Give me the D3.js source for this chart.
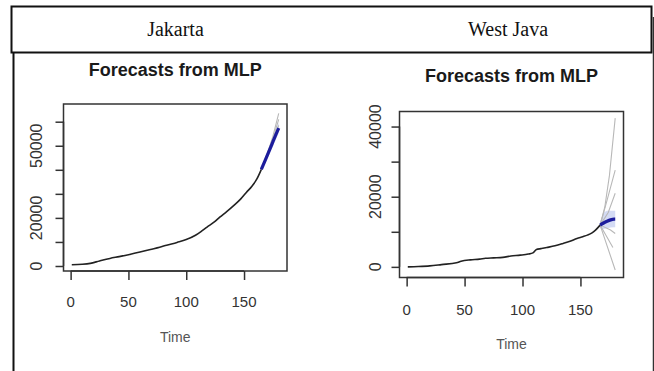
<!DOCTYPE html>
<html>
<head>
<meta charset="utf-8">
<script src="https://cdn.jsdelivr.net/npm/d3@7"></script>
<style>
	body { margin: 0; background: #fff; }
	svg text { font-family: "Liberation Sans", Arial, sans-serif; }
</style>
</head>
<body>
<script>
// ---- data ----
var regions = ['Jakarta', 'West Java'];
var xTicks = [0, 50, 100, 150];

// Jakarta observed
var jkTime  = [1, 10, 17, 25, 34, 42, 51, 60, 69, 77, 83, 92, 100, 108, 113, 118, 124, 129, 135, 141, 147, 152, 157, 161, 165];
var jkCases = [500, 700, 1100, 2100, 3150, 3900, 4800, 5800, 6870, 7800, 8640, 9800, 10970, 12760, 14400, 16200, 18200, 20300, 22600, 25100, 27800, 30600, 33300, 36100, 40200];
// Jakarta forecast
var jkFcTime  = [165, 168, 171, 174, 177, 180];
var jkFcMean  = [40200, 43600, 47000, 50500, 54000, 57300];
var jkFcUpper = [40200, 45000, 48800, 52500, 56200, 59500];
var jkFcLower = [40200, 42400, 45400, 48700, 52000, 55300];
var jkFanTime = [165, 170, 175, 180];
var jkFan = [
	[40200, 46500, 54000, 63500],
	[40200, 46000, 53000, 61000],
	[40200, 45500, 51500, 58500]
];
var jkYTicks = [0, 10000, 20000, 30000, 40000, 50000, 60000];
var jkYLabels = [0, 20000, 50000];

// West Java observed
var jbTime  = [1, 10, 20, 30, 43, 47, 55, 63, 68, 75, 83, 90, 98, 105, 109, 112, 116, 121, 128, 135, 141, 147, 152, 156, 160, 163, 167];
var jbCases = [0, 100, 290, 650, 1150, 1600, 2000, 2200, 2450, 2570, 2700, 3100, 3340, 3650, 4000, 4950, 5200, 5520, 6000, 6670, 7300, 8100, 8600, 9050, 9700, 10480, 11900];
// West Java forecast
var jbFcTime  = [167, 170, 173, 176, 179, 180];
var jbFcMean  = [11900, 12500, 13000, 13400, 13600, 13600];
var jbFcUpper = [13000, 15500, 16000, 16000, 16000, 16000];
var jbFcLower = [11000, 10800, 11000, 11200, 11300, 11300];
var jbFan = [
	{t: [167, 171, 175, 180], v: [11900, 17000, 26000, 42400]},
	{t: [167, 173, 180], v: [11900, 19000, 27600]},
	{t: [167, 174, 180], v: [11900, 15500, 21000]},
	{t: [167, 173, 180], v: [11900, 6000, -900]},
	{t: [167, 172, 178], v: [11900, 9000, 5500]},
	{t: [167, 176, 180], v: [11900, 10500, 9500]}
];
var jbYTicks = [0, 10000, 20000, 30000, 40000];
var jbYLabels = [0, 20000, 40000];

var W = 654, H = 371;
var svg = d3.select('body').append('svg')
	.attr('width', W)
	.attr('height', H);

// table frame
svg.append('rect')
	.attr('x', 11.5).attr('y', 6.5)
	.attr('width', 640).attr('height', 46)
	.attr('fill', 'none')
	.attr('stroke', '#111')
	.attr('stroke-width', 2);
svg.append('line')
	.attr('x1', 13.5).attr('x2', 13.5)
	.attr('y1', 52).attr('y2', H)
	.attr('stroke', '#111').attr('stroke-width', 2);
svg.append('line')
	.attr('x1', 653.5).attr('x2', 653.5)
	.attr('y1', 17).attr('y2', H)
	.attr('stroke', '#333').attr('stroke-width', 1.5);

var headerX = [175.5, 508];
svg.selectAll('text.hdr')
	.data(regions)
	.enter()
	.append('text')
	.attr('class', 'hdr')
	.attr('x', function(d, i){ return headerX[i]; })
	.attr('y', 36)
	.attr('text-anchor', 'middle')
	.style('font-family', '"Liberation Serif", "Times New Roman", serif')
	.style('font-size', '20px')
	.attr('fill', '#111')
	.text(function(d){ return d; });

function drawPanel(cfg){
	var g = svg.append('g');
	var x = d3.scaleLinear().domain([-6.16, 187.16]).range([cfg.left, cfg.right]);
	var y = d3.scaleLinear().domain(cfg.yDomain).range([cfg.bottom, cfg.top]);

	var clipId = 'clip' + cfg.id;
	svg.append('clipPath').attr('id', clipId)
		.append('rect')
		.attr('x', cfg.left).attr('y', cfg.top)
		.attr('width', cfg.right - cfg.left)
		.attr('height', cfg.bottom - cfg.top);

	var plot = g.append('g').attr('clip-path', 'url(#' + clipId + ')');

	// forecast band
	var area = d3.area()
		.x(function(d){ return x(d.t); })
		.y0(function(d){ return y(d.lo); })
		.y1(function(d){ return y(d.hi); });
	var bandData = cfg.fcTime.map(function(t, i){
		return {t: t, lo: cfg.fcLower[i], hi: cfg.fcUpper[i]};
	});
	plot.append('path')
		.datum(bandData)
		.attr('d', area)
		.attr('fill', '#cdd5f2')
		.attr('opacity', 0.85);

	// individual network forecasts
	var line = d3.line()
		.x(function(d){ return x(d[0]); })
		.y(function(d){ return y(d[1]); });
	for(let f of cfg.fan){
		plot.append('path')
			.datum(f.t.map(function(t, i){ return [t, f.v[i]]; }))
			.attr('d', line)
			.attr('fill', 'none')
			.attr('stroke', '#b8b8b8')
			.attr('stroke-width', 1.1);
	}

	// observed
	var smooth = d3.line()
		.x(function(d){ return x(d[0]); })
		.y(function(d){ return y(d[1]); })
		.curve(d3.curveMonotoneX);
	plot.append('path')
		.datum(cfg.time.map(function(t, i){ return [t, cfg.cases[i]]; }))
		.attr('d', smooth)
		.attr('fill', 'none')
		.attr('stroke', '#222')
		.attr('stroke-width', 1.6);

	// forecast mean
	plot.append('path')
		.datum(cfg.fcTime.map(function(t, i){ return [t, cfg.fcMean[i]]; }))
		.attr('d', smooth)
		.attr('fill', 'none')
		.attr('stroke', '#1c1c9c')
		.attr('stroke-width', 3.2);

	// box
	g.append('rect')
		.attr('x', cfg.left).attr('y', cfg.top)
		.attr('width', cfg.right - cfg.left)
		.attr('height', cfg.bottom - cfg.top)
		.attr('fill', 'none')
		.attr('stroke', '#333')
		.attr('stroke-width', 1.5);

	// x axis
	var xAxis = g.append('g')
		.attr('transform', 'translate(0,' + cfg.bottom + ')')
		.call(d3.axisBottom(x).tickValues(xTicks).tickSize(9).tickFormat(''));
	xAxis.select('.domain').attr('d', 'M' + x(0) + ',0H' + x(150)).attr('stroke', '#333').attr('stroke-width', 1.5);
	xAxis.selectAll('.tick line').attr('stroke', '#333').attr('stroke-width', 1.5);

	g.selectAll('text.xl')
		.data(xTicks)
		.enter()
		.append('text')
		.attr('x', function(d){ return x(d); })
		.attr('y', cfg.xLabelY)
		.attr('text-anchor', 'middle')
		.style('font-size', '15px')
		.attr('fill', '#333')
		.text(function(d){ return d; });

	// y axis
	var yAxis = g.append('g')
		.attr('transform', 'translate(' + cfg.left + ',0)')
		.call(d3.axisLeft(y).tickValues(cfg.yTicks).tickSize(8).tickFormat(''));
	yAxis.select('.domain')
		.attr('d', 'M0,' + y(cfg.yTicks[0]) + 'V' + y(cfg.yTicks[cfg.yTicks.length - 1]))
		.attr('stroke', '#333').attr('stroke-width', 1.5);
	yAxis.selectAll('.tick line').attr('stroke', '#333').attr('stroke-width', 1.5);

	g.selectAll('text.yl')
		.data(cfg.yLabels)
		.enter()
		.append('text')
		.attr('transform', function(d){
			return 'translate(' + cfg.yLabelX + ',' + y(d) + ') rotate(-90)';
		})
		.attr('text-anchor', 'middle')
		.style('font-size', '16px')
		.attr('fill', '#333')
		.text(function(d){ return d; });

	// titles
	g.append('text')
		.attr('x', (cfg.left + cfg.right)/2)
		.attr('y', cfg.titleY)
		.attr('text-anchor', 'middle')
		.style('font-size', '18px')
		.style('font-weight', 'bold')
		.attr('fill', '#1a1a1a')
		.text('Forecasts from MLP');

	g.append('text')
		.attr('x', (cfg.left + cfg.right)/2)
		.attr('y', cfg.timeY)
		.attr('text-anchor', 'middle')
		.style('font-size', '14px')
		.attr('fill', '#555')
		.text('Time');
}

drawPanel({
	id: 'jk',
	left: 63.5, right: 287, top: 104, bottom: 271,
	yDomain: [-2080, 67360],
	time: jkTime, cases: jkCases,
	fcTime: jkFcTime, fcMean: jkFcMean, fcUpper: jkFcUpper, fcLower: jkFcLower,
	fan: jkFan.map(function(v){ return {t: jkFanTime, v: v}; }),
	yTicks: jkYTicks, yLabels: jkYLabels,
	xLabelY: 306.5, yLabelX: 41.5, titleY: 75.5, timeY: 342
});

drawPanel({
	id: 'jb',
	left: 399.5, right: 623.5, top: 111.5, bottom: 277.5,
	yDomain: [-3030, 44290],
	time: jbTime, cases: jbCases,
	fcTime: jbFcTime, fcMean: jbFcMean, fcUpper: jbFcUpper, fcLower: jbFcLower,
	fan: jbFan,
	yTicks: jbYTicks, yLabels: jbYLabels,
	xLabelY: 314.5, yLabelX: 380.5, titleY: 82, timeY: 349
});
</script>
</body>
</html>
